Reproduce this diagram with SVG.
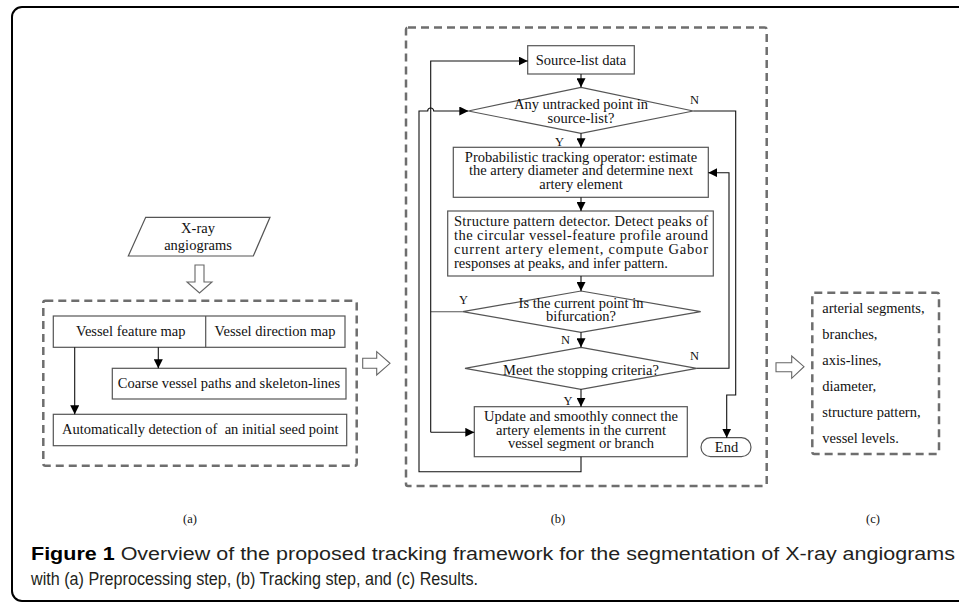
<svg xmlns="http://www.w3.org/2000/svg" width="959" height="602" viewBox="0 0 959 602">
  <defs>
    <marker id="ah" viewBox="0 0 10 10" refX="10" refY="5" markerWidth="9" markerHeight="9" markerUnits="userSpaceOnUse" orient="auto">
      <path d="M0,0 L10,5 L0,10 z" fill="#000"/>
    </marker>
    <style>
      .frame { fill: none; stroke: #000; stroke-width: 2; }
      .dash { fill: none; stroke: #6e6e6e; stroke-width: 2.5; stroke-dasharray: 8 5; }
      .box { fill: #fff; stroke: #555; stroke-width: 1.2; }
      .hollow { fill: #fff; stroke: #666; stroke-width: 1.1; }
      .link { fill: none; stroke: #555; stroke-width: 1.1; }
      .arr { fill: none; stroke: #111; stroke-width: 1.1; marker-end: url(#ah); }
      .t { font-family: "Liberation Serif", "Times New Roman", serif; font-size: 14.5px; fill: #111; }
      .c { text-anchor: middle; }
      .lbl { font-family: "Liberation Serif", "Times New Roman", serif; font-size: 12.5px; fill: #111; }
      .cap { font-family: "Liberation Sans", Arial, sans-serif; font-size: 17.5px; fill: #231f20; }
    </style>
  </defs>

  <!-- outer figure frame -->
  <path class="frame" d="M960,7 H22 A10,10 0 0 0 12,17 V591 A10,10 0 0 0 22,601 H960"/>

  <!-- panel (a): preprocessing -->
  <g id="input">
    <polygon class="box" points="145.7,217.3 270,217.3 253.3,256 128.3,256"/>
    <text class="t c" x="198" y="233">X-ray</text>
    <text class="t c" x="198" y="250">angiograms</text>
  </g>
  <g id="arrow-down-a">
    <polygon class="hollow" points="195,265 204,265 204,282 212,282 199.5,293 187,282 195,282"/>
  </g>
  <g id="panel-a">
    <rect class="dash" x="43.3" y="300.7" width="313.4" height="165" rx="2"/>
  </g>
  <g id="maps">
    <rect class="box" x="53.3" y="316" width="291.7" height="31.3"/>
    <line class="box" x1="205.7" y1="316" x2="205.7" y2="347.3"/>
    <text class="t c" x="130.8" y="336">Vessel feature map</text>
    <text class="t c" x="275" y="336">Vessel direction map</text>
  </g>
  <g id="coarse">
    <rect class="box" x="112.3" y="368.3" width="233.7" height="30.7"/>
    <text class="t c" x="229" y="387.5">Coarse vessel paths and skeleton-lines</text>
  </g>
  <g id="seed">
    <rect class="box" x="53.3" y="414.3" width="293.4" height="31.4"/>
    <text class="t c" x="200.3" y="433.5" xml:space="preserve">Automatically detection of  an initial seed point</text>
  </g>

  <g id="arrow-a-b">
    <polygon class="hollow" points="362.7,358.3 376.7,358.3 376.7,351.7 390,363.3 376.7,375 376.7,368.3 362.7,368.3"/>
  </g>

  <!-- panel (b): tracking loop -->
  <g id="panel-b">
    <rect class="dash" x="406" y="27.5" width="360.7" height="458.5" rx="2"/>
  </g>
  <g id="source-list">
    <rect class="box" x="527.7" y="45.7" width="106.6" height="28.3"/>
    <text class="t c" x="581" y="64.5">Source-list data</text>
  </g>
  <g id="untracked">
    <polygon class="box" points="581,87.3 693.3,111 581,133.3 468.3,111"/>
    <text class="t c" x="581" y="109">Any untracked point in</text>
    <text class="t c" x="581" y="122.5">source-list?</text>
  </g>
  <g id="tracking-operator">
    <rect class="box" x="453.3" y="147.3" width="255" height="50"/>
    <text class="t c" x="581" y="161.7">Probabilistic tracking operator: estimate</text>
    <text class="t c" x="581" y="175.3">the artery diameter and determine next</text>
    <text class="t c" x="581" y="188.8">artery element</text>
  </g>
  <g id="pattern-detector">
    <rect class="box" x="447.7" y="211" width="265.6" height="65"/>
    <text class="t" x="454" y="226" textLength="254" lengthAdjust="spacing">Structure pattern detector. Detect peaks of</text>
    <text class="t" x="454" y="240" textLength="254" lengthAdjust="spacing">the circular vessel-feature profile around</text>
    <text class="t" x="454" y="254" textLength="254" lengthAdjust="spacing">current artery element, compute Gabor</text>
    <text class="t" x="454" y="267.5">responses at peaks, and infer pattern.</text>
  </g>
  <g id="bifurcation">
    <polygon class="box" points="581,291 700.7,311.7 581,332.3 462.7,311.7"/>
    <text class="t c" x="581" y="307.7">Is the current point in</text>
    <text class="t c" x="581" y="321">bifurcation?</text>
  </g>
  <g id="stopping">
    <polygon class="box" points="581,347.3 696.7,368.3 581,389.3 465,368.3"/>
    <text class="t c" x="581" y="375">Meet the stopping criteria?</text>
  </g>
  <g id="update">
    <rect class="box" x="474.3" y="406.7" width="213" height="50"/>
    <text class="t c" x="581" y="421">Update and smoothly connect the</text>
    <text class="t c" x="581" y="434.8">artery elements in the current</text>
    <text class="t c" x="581" y="448">vessel segment or branch</text>
  </g>
  <g id="end">
    <rect class="box" x="701" y="437.7" width="50" height="19" rx="9.5"/>
    <text class="t c" x="726.5" y="451.5">End</text>
  </g>

  <g id="connectors">
    <!-- panel (a) -->
    <path class="arr" d="M158.3,347.3 V368.3"/>
    <path class="arr" d="M74.7,347.3 V414.3"/>
    <!-- panel (b) main column -->
    <path class="arr" d="M581,74 V87.3"/>
    <path class="arr" d="M581,133.3 V147.3"/>
    <path class="arr" d="M581,197.3 V211"/>
    <path class="arr" d="M581,276 V291"/>
    <path class="arr" d="M581,332.3 V347.3"/>
    <path class="arr" d="M581,389.3 V406.7"/>
    <!-- bifurcation: back to source list and on to update -->
    <path class="link" d="M462.7,311.7 H430.7"/>
    <path class="arr" d="M430.7,432.3 V61 H527.7"/>
    <path class="arr" d="M430.7,432.3 H474.3"/>
    <!-- return from update to the untracked-point test, hopping the crossing -->
    <path class="arr" d="M581,456.7 V471.7 H419 V111 H427.7 A3,3 0 0 1 433.7,111 H468.3"/>
    <!-- not stopping: loop back to tracking operator -->
    <path class="arr" d="M696.7,368.3 H729 V172.7 H708.3"/>
    <!-- nothing left: end -->
    <path class="arr" d="M693.3,111 H735.7 V395 H726.7 V437.7"/>
  </g>

  <g id="branch-labels">
    <text class="lbl" x="690" y="103.5">N</text>
    <text class="lbl" x="555" y="145.7">Y</text>
    <text class="lbl" x="459" y="304">Y</text>
    <text class="lbl" x="561" y="343.5">N</text>
    <text class="lbl" x="690" y="360">N</text>
    <text class="lbl" x="563.5" y="405">Y</text>
  </g>

  <g id="arrow-b-c">
    <polygon class="hollow" points="776,362.7 791.7,362.7 791.7,356 804,366.7 791.7,378.3 791.7,371.7 776,371.7"/>
  </g>

  <!-- panel (c): results -->
  <g id="panel-c">
    <rect class="dash" x="812.3" y="292.7" width="126.7" height="161.3" rx="2"/>
    <text class="t" x="822.3" y="313.3">arterial segments,</text>
    <text class="t" x="822.3" y="339">branches,</text>
    <text class="t" x="822.3" y="365">axis-lines,</text>
    <text class="t" x="822.3" y="391">diameter,</text>
    <text class="t" x="822.3" y="417">structure pattern,</text>
    <text class="t" x="822.3" y="443">vessel levels.</text>
  </g>

  <g id="panel-labels">
    <text class="lbl c" x="190" y="522.5">(a)</text>
    <text class="lbl c" x="558" y="522.5">(b)</text>
    <text class="lbl c" x="873" y="522.5">(c)</text>
  </g>

  <g id="caption">
    <text class="cap" x="31" y="560" textLength="924" lengthAdjust="spacingAndGlyphs"><tspan font-weight="bold" fill="#000">Figure 1</tspan> Overview of the proposed tracking framework for the segmentation of X-ray angiograms</text>
    <text class="cap" x="31" y="584.5" textLength="447" lengthAdjust="spacingAndGlyphs">with (a) Preprocessing step, (b) Tracking step, and (c) Results.</text>
  </g>
</svg>
